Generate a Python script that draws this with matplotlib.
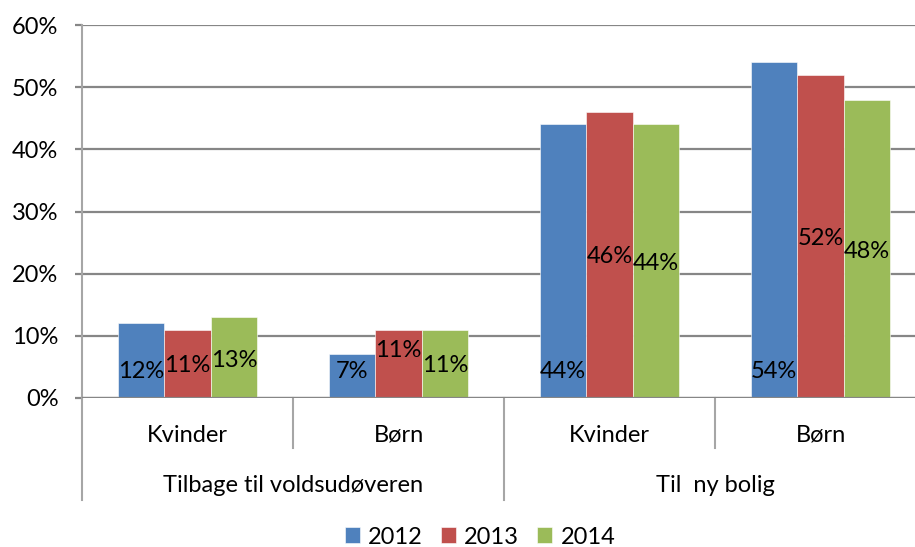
import matplotlib
matplotlib.use("Agg")
import matplotlib.pyplot as plt
import matplotlib.transforms as mtransforms
import numpy as np

#--------------- Data ---------------------
groups = ["Tilbage til voldsudøveren", "Til  ny bolig"]
categories = ["Kvinder", "Børn", "Kvinder", "Børn"]
years = ["2012", "2013", "2014"]
v2012 = [12, 7, 44, 54]
v2013 = [11, 11, 46, 52]
v2014 = [13, 11, 44, 48]
# heights where Excel put the data labels (in %)
lab2012 = [4.2, 4.2, 4.2, 4.2]
lab2013 = [5.3, 7.7, 22.7, 25.7]
lab2014 = [6.1, 5.3, 21.7, 23.6]

colors = ["#4F81BD", "#C0504D", "#9BBB59"]
grid_col = "#868686"

#--------------- Style ---------------------
plt.rcParams['font.family'] = ['Lato', 'DejaVu Sans']
plt.rcParams['font.size'] = 17

fig = plt.figure(figsize=(9.15, 5.47), dpi=100)
ax = fig.add_axes([82 / 915, 1 - 398 / 547, 1 - 82 / 915, 373 / 547])

x = np.arange(len(categories))
w = 0.221
series = [v2012, v2013, v2014]
labels = [lab2012, lab2013, lab2014]
for i, (vals, labs) in enumerate(zip(series, labels)):
	xs = x + (i - 1) * w
	ax.bar(xs, vals, w, color=colors[i], label=years[i], zorder=3,
		edgecolor="white", linewidth=0.4)
	for xx, v, ly in zip(xs, vals, labs):
		ax.text(xx, ly, f"{v}%", ha="center", va="center", zorder=4)

ax.set_ylim(0, 60)
ax.set_xlim(-0.5, -0.5 + 833 / 211)
ax.set_yticks(range(0, 61, 10))
ax.set_yticklabels([f"{t}%" for t in range(0, 61, 10)])
ax.yaxis.grid(True, color=grid_col, linewidth=1.6, zorder=0)
ax.tick_params(axis="y", length=5, width=1.6, color=grid_col, pad=12)
ax.set_xticks([])
for s in ["top", "right", "bottom"]:
	ax.spines[s].set_visible(False)
ax.spines["left"].set_color("#A6A6A6")
ax.spines["left"].set_linewidth(1.5)
ax.axhline(0, color=grid_col, linewidth=1.6, zorder=5)

# Multi-level category axis
trans = mtransforms.blended_transform_factory(ax.transData, ax.transAxes)
inner_bottom = (398 - 448) / 373
outer_bottom = (398 - 500) / 373
for xs in [0.5, 2.5]:
	ax.plot([xs, xs], [0, inner_bottom], transform=trans, color="#A6A6A6",
		linewidth=1.5, clip_on=False)
for xs in [-0.5, 1.5, 3.5]:
	ax.plot([xs, xs], [0, outer_bottom], transform=trans, color="#A6A6A6",
		linewidth=1.5, clip_on=False)
for xx, c in zip(x, categories):
	ax.text(xx, (398 - 435) / 373, c, transform=trans, ha="center", va="center")
for xx, g in zip([0.5, 2.5], groups):
	ax.text(xx, (398 - 485) / 373, g, transform=trans, ha="center", va="center")

# Legend
fig.legend(loc="center", bbox_to_anchor=(480 / 915, 1 - 537 / 547), ncol=3,
	frameon=False, handlelength=0.65, handleheight=0.65, handletextpad=0.35,
	columnspacing=0.75, borderaxespad=0)

fig.savefig("out.png", dpi=100)
